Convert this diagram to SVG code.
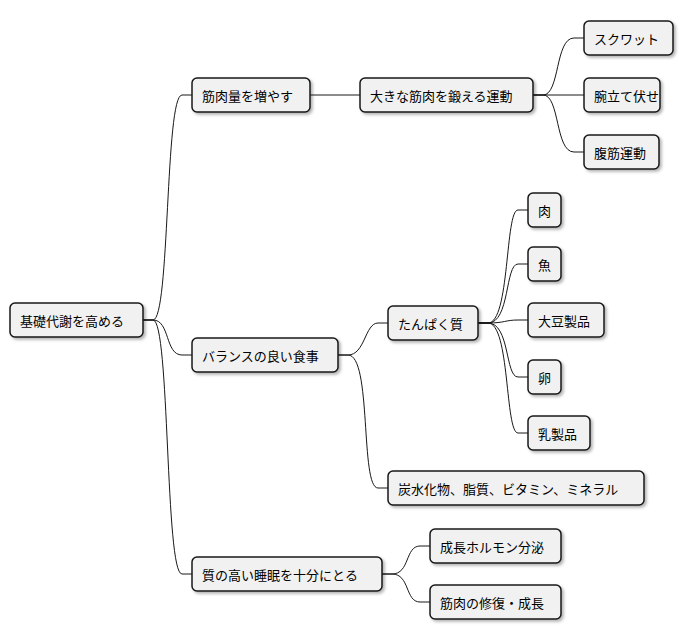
<svg xmlns="http://www.w3.org/2000/svg" width="684" height="640" viewBox="0 0 684 640">
<style>
.n rect{fill:#F1F1F1;stroke:#181818;stroke-width:1.5}
.n text{font-family:"Noto Sans CJK JP","Liberation Sans",sans-serif;font-size:13px;fill:#000;dominant-baseline:central}
#c path{fill:none;stroke:#181818;stroke-width:1}
</style>
<defs><filter id="s" x="-10%" y="-20%" width="130%" height="160%"><feDropShadow dx="2" dy="2" stdDeviation="1.5" flood-opacity="0.3"/></filter></defs>
<g id="c">
<path d="M143,320 H153 C170,320 165,95 182,95 H192"/>
<path d="M143,320 H153 C170,320 165,355 182,355 H192"/>
<path d="M143,320 H153 C170,320 165,574 182,574 H192"/>
<path d="M310,95 H360"/>
<path d="M533,95 H543 C560,95 555,38 574,38 H584"/>
<path d="M533,95 H584"/>
<path d="M533,95 H543 C560,95 555,152 574,152 H584"/>
<path d="M338,355 H348 C365,355 365,323 378,323 H388"/>
<path d="M338,355 H348 C372,355 360,488 378,488 H388"/>
<path d="M478,323 H488 C510,323 505,210 518,210 H528"/>
<path d="M478,323 H488 C510,323 505,264 518,264 H528"/>
<path d="M478,323 H488 C505,323 505,320 518,320 H528"/>
<path d="M478,323 H488 C510,323 505,377 518,377 H528"/>
<path d="M478,323 H488 C510,323 505,433 518,433 H528"/>
<path d="M382,574 H392 C410,574 405,546 420,546 H430"/>
<path d="M382,574 H392 C410,574 405,602 420,602 H430"/>
</g>
<g id="root" class="n"><rect x="10" y="303" width="133" height="34" rx="5" filter="url(#s)"/><text x="20" y="320">基礎代謝を高める</text></g>
<g id="n1" class="n"><rect x="192" y="78" width="118" height="34" rx="5" filter="url(#s)"/><text x="202" y="95">筋肉量を増やす</text></g>
<g id="n2" class="n"><rect x="192" y="338" width="146" height="34" rx="5" filter="url(#s)"/><text x="202" y="355">バランスの良い食事</text></g>
<g id="n3" class="n"><rect x="192" y="557" width="190" height="34" rx="5" filter="url(#s)"/><text x="202" y="574">質の高い睡眠を十分にとる</text></g>
<g id="n11" class="n"><rect x="360" y="78" width="173" height="34" rx="5" filter="url(#s)"/><text x="370" y="95">大きな筋肉を鍛える運動</text></g>
<g id="n111" class="n"><rect x="584" y="21" width="89" height="34" rx="5" filter="url(#s)"/><text x="594" y="38">スクワット</text></g>
<g id="n112" class="n"><rect x="584" y="78" width="76" height="34" rx="5" filter="url(#s)"/><text x="594" y="95">腕立て伏せ</text></g>
<g id="n113" class="n"><rect x="584" y="135" width="75" height="34" rx="5" filter="url(#s)"/><text x="594" y="152">腹筋運動</text></g>
<g id="n21" class="n"><rect x="388" y="306" width="90" height="34" rx="5" filter="url(#s)"/><text x="398" y="323">たんぱく質</text></g>
<g id="n211" class="n"><rect x="528" y="193" width="33" height="34" rx="5" filter="url(#s)"/><text x="538" y="210">肉</text></g>
<g id="n212" class="n"><rect x="528" y="247" width="33" height="34" rx="5" filter="url(#s)"/><text x="538" y="264">魚</text></g>
<g id="n213" class="n"><rect x="528" y="303" width="76" height="34" rx="5" filter="url(#s)"/><text x="538" y="320">大豆製品</text></g>
<g id="n214" class="n"><rect x="528" y="360" width="33" height="34" rx="5" filter="url(#s)"/><text x="538" y="377">卵</text></g>
<g id="n215" class="n"><rect x="528" y="416" width="62" height="34" rx="5" filter="url(#s)"/><text x="538" y="433">乳製品</text></g>
<g id="n22" class="n"><rect x="388" y="471" width="256" height="34" rx="5" filter="url(#s)"/><text x="398" y="488">炭水化物、脂質、ビタミン、ミネラル</text></g>
<g id="n31" class="n"><rect x="430" y="529" width="131" height="34" rx="5" filter="url(#s)"/><text x="440" y="546">成長ホルモン分泌</text></g>
<g id="n32" class="n"><rect x="430" y="585" width="131" height="34" rx="5" filter="url(#s)"/><text x="440" y="602">筋肉の修復・成長</text></g>
</svg>
